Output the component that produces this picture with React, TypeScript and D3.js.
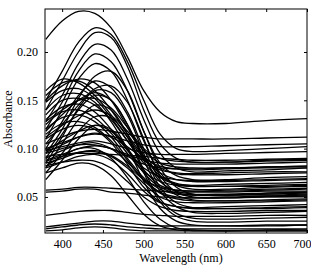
import { useRef, useEffect } from 'react';
import * as d3 from 'd3';

// wavelengths (nm) at which each spectrum is sampled
const wavelengths = [380, 400, 420, 440, 460, 480, 500, 520, 540, 560, 600, 650, 700];

// peaked spectra, strong drop after 500 nm
const peakedSpectra = [
  [0.213, 0.232, 0.242, 0.240, 0.225, 0.195, 0.160, 0.138, 0.128, 0.126, 0.126, 0.129, 0.131],
  [0.150, 0.180, 0.210, 0.225, 0.218, 0.190, 0.150, 0.115, 0.100, 0.097, 0.098, 0.100, 0.102],
  [0.140, 0.170, 0.200, 0.220, 0.215, 0.185, 0.140, 0.105, 0.090, 0.086, 0.086, 0.088, 0.089],
  [0.128, 0.155, 0.188, 0.208, 0.202, 0.172, 0.130, 0.095, 0.080, 0.076, 0.077, 0.078, 0.080],
  [0.120, 0.148, 0.180, 0.198, 0.190, 0.160, 0.118, 0.085, 0.072, 0.068, 0.068, 0.070, 0.071],
  [0.110, 0.140, 0.172, 0.188, 0.180, 0.150, 0.108, 0.075, 0.062, 0.058, 0.058, 0.060, 0.061],
  [0.095, 0.120, 0.152, 0.175, 0.180, 0.160, 0.118, 0.080, 0.060, 0.053, 0.052, 0.054, 0.055],
  [0.100, 0.128, 0.155, 0.170, 0.163, 0.138, 0.100, 0.068, 0.052, 0.047, 0.046, 0.047, 0.048],
  [0.085, 0.112, 0.142, 0.160, 0.158, 0.135, 0.095, 0.060, 0.044, 0.039, 0.038, 0.039, 0.040],
  [0.090, 0.115, 0.140, 0.155, 0.150, 0.125, 0.088, 0.056, 0.040, 0.034, 0.033, 0.034, 0.035],
  [0.080, 0.105, 0.130, 0.145, 0.140, 0.115, 0.078, 0.048, 0.033, 0.028, 0.027, 0.028, 0.029],
  [0.075, 0.095, 0.118, 0.133, 0.132, 0.112, 0.075, 0.045, 0.030, 0.025, 0.024, 0.025, 0.025],
  [0.068, 0.088, 0.110, 0.124, 0.120, 0.100, 0.066, 0.038, 0.025, 0.021, 0.020, 0.021, 0.021],
  [0.082, 0.092, 0.100, 0.100, 0.090, 0.070, 0.045, 0.027, 0.018, 0.016, 0.015, 0.015, 0.015],
  [0.075, 0.080, 0.085, 0.083, 0.072, 0.052, 0.032, 0.020, 0.016, 0.015, 0.015, 0.016, 0.016],
  [0.105, 0.125, 0.145, 0.162, 0.165, 0.148, 0.110, 0.072, 0.055, 0.050, 0.050, 0.051, 0.052],
  [0.118, 0.135, 0.150, 0.158, 0.150, 0.125, 0.092, 0.066, 0.056, 0.053, 0.053, 0.054, 0.055],
];

// spectra peaking near 400-420 nm
const bluePeakSpectra = [
  [0.160, 0.172, 0.168, 0.155, 0.135, 0.112, 0.090, 0.075, 0.068, 0.066, 0.066, 0.067, 0.068],
  [0.155, 0.168, 0.170, 0.160, 0.140, 0.115, 0.092, 0.080, 0.074, 0.073, 0.073, 0.074, 0.075],
  [0.150, 0.165, 0.172, 0.168, 0.150, 0.122, 0.092, 0.072, 0.064, 0.062, 0.063, 0.064, 0.065],
  [0.148, 0.160, 0.162, 0.152, 0.132, 0.108, 0.085, 0.070, 0.063, 0.061, 0.061, 0.062, 0.063],
  [0.140, 0.155, 0.157, 0.148, 0.128, 0.100, 0.075, 0.060, 0.054, 0.052, 0.052, 0.053, 0.054],
  [0.135, 0.150, 0.152, 0.145, 0.130, 0.108, 0.088, 0.078, 0.075, 0.074, 0.075, 0.076, 0.076],
  [0.130, 0.143, 0.146, 0.138, 0.120, 0.098, 0.080, 0.071, 0.068, 0.067, 0.067, 0.068, 0.069],
  [0.128, 0.140, 0.150, 0.152, 0.142, 0.122, 0.100, 0.090, 0.087, 0.086, 0.086, 0.087, 0.088],
  [0.125, 0.138, 0.140, 0.132, 0.116, 0.095, 0.076, 0.066, 0.062, 0.061, 0.061, 0.061, 0.062],
  [0.120, 0.132, 0.135, 0.128, 0.112, 0.090, 0.070, 0.058, 0.053, 0.052, 0.052, 0.052, 0.053],
  [0.115, 0.126, 0.128, 0.122, 0.108, 0.088, 0.067, 0.054, 0.048, 0.046, 0.046, 0.046, 0.047],
  [0.112, 0.124, 0.134, 0.140, 0.134, 0.118, 0.098, 0.085, 0.081, 0.080, 0.080, 0.081, 0.082],
  [0.110, 0.120, 0.124, 0.120, 0.106, 0.084, 0.060, 0.045, 0.040, 0.038, 0.038, 0.038, 0.039],
];

// flatter spectra around 0.08-0.12
const flatSpectra = [
  [0.105, 0.112, 0.118, 0.120, 0.118, 0.115, 0.112, 0.110, 0.110, 0.110, 0.110, 0.111, 0.112],
  [0.100, 0.106, 0.112, 0.115, 0.113, 0.108, 0.104, 0.102, 0.102, 0.102, 0.103, 0.104, 0.105],
  [0.098, 0.102, 0.106, 0.108, 0.105, 0.100, 0.096, 0.094, 0.094, 0.094, 0.095, 0.096, 0.097],
  [0.098, 0.108, 0.118, 0.124, 0.118, 0.100, 0.078, 0.062, 0.057, 0.056, 0.057, 0.058, 0.059],
  [0.096, 0.104, 0.112, 0.116, 0.112, 0.102, 0.090, 0.082, 0.079, 0.078, 0.079, 0.080, 0.080],
  [0.095, 0.100, 0.104, 0.104, 0.100, 0.094, 0.088, 0.085, 0.084, 0.084, 0.084, 0.085, 0.086],
  [0.092, 0.094, 0.095, 0.095, 0.094, 0.093, 0.092, 0.090, 0.089, 0.088, 0.088, 0.089, 0.090],
  [0.090, 0.098, 0.104, 0.106, 0.100, 0.086, 0.068, 0.055, 0.050, 0.049, 0.049, 0.050, 0.051],
  [0.088, 0.094, 0.100, 0.103, 0.100, 0.092, 0.084, 0.080, 0.079, 0.079, 0.080, 0.081, 0.082],
  [0.087, 0.092, 0.096, 0.097, 0.092, 0.080, 0.064, 0.050, 0.045, 0.044, 0.044, 0.045, 0.046],
  [0.085, 0.090, 0.096, 0.098, 0.093, 0.082, 0.068, 0.060, 0.057, 0.056, 0.056, 0.057, 0.058],
  [0.080, 0.086, 0.092, 0.094, 0.088, 0.074, 0.056, 0.044, 0.040, 0.039, 0.040, 0.041, 0.042],
  [0.082, 0.086, 0.088, 0.087, 0.080, 0.066, 0.050, 0.040, 0.036, 0.035, 0.035, 0.036, 0.036],
];

// low, almost flat spectra
const lowSpectra = [
  [0.057, 0.058, 0.060, 0.060, 0.059, 0.058, 0.057, 0.056, 0.055, 0.055, 0.055, 0.056, 0.056],
  [0.055, 0.056, 0.058, 0.058, 0.055, 0.054, 0.052, 0.050, 0.049, 0.049, 0.049, 0.050, 0.050],
  [0.031, 0.033, 0.035, 0.036, 0.036, 0.034, 0.032, 0.031, 0.030, 0.030, 0.030, 0.031, 0.031],
  [0.019, 0.021, 0.023, 0.025, 0.025, 0.023, 0.021, 0.020, 0.020, 0.020, 0.020, 0.020, 0.021],
  [0.017, 0.019, 0.021, 0.022, 0.021, 0.019, 0.018, 0.017, 0.017, 0.017, 0.017, 0.017, 0.017],
  [0.015, 0.016, 0.018, 0.019, 0.018, 0.016, 0.015, 0.015, 0.015, 0.015, 0.015, 0.015, 0.015],
];

const xTicks = [400, 450, 500, 550, 600, 650, 700];
const yTicks = [0.05, 0.10, 0.15, 0.20];

const App = () => {
  const svgRef = useRef<SVGSVGElement>(null);

  useEffect(() => {
    if (!svgRef.current) return;
    const root = d3.select(svgRef.current);
    root.selectAll('*').remove();

    const left = 45, top = 9, right = 307, bottom = 233;
    const font = "'Liberation Serif', 'DejaVu Serif', serif";

    const x = d3.scaleLinear().domain([379, 700]).range([left, right]);
    const y = d3.scaleLinear().domain([0.0127, 0.2445]).range([bottom, top]);

    root.append('defs').append('clipPath').attr('id', 'plot-clip')
      .append('rect')
      .attr('x', left).attr('y', top)
      .attr('width', right - left).attr('height', bottom - top);

    const allSpectra = [...peakedSpectra, ...bluePeakSpectra, ...flatSpectra, ...lowSpectra];

    const line = d3.line<number>()
      .x((_, i) => x(wavelengths[i]))
      .y(d => y(d))
      .curve(d3.curveCatmullRom.alpha(0.5));

    root.append('g')
      .attr('clip-path', 'url(#plot-clip)')
      .selectAll('path')
      .data(allSpectra)
      .enter()
      .append('path')
      .attr('d', d => line(d))
      .attr('fill', 'none')
      .attr('stroke', '#000')
      .attr('stroke-width', 1.3);

    // axes with inward ticks
    const styleAxis = (g: any) => {
      g.attr('font-family', null);
      g.selectAll('.domain').remove();
      g.selectAll('.tick line').attr('stroke', '#000');
      g.selectAll('text')
        .style('font-family', font)
        .style('font-size', '12px')
        .attr('fill', '#000');
    };

    const bottomAxis = root.append('g')
      .attr('transform', `translate(0,${bottom})`)
      .call(d3.axisBottom(x).tickValues(xTicks).tickSizeInner(-3).tickSizeOuter(0).tickPadding(6))
      .call(styleAxis);
    // last label is pulled in so it stays inside the page
    bottomAxis.selectAll('.tick text').filter((d: any) => d === 700).attr('dx', -5);

    root.append('g')
      .attr('transform', `translate(0,${top})`)
      .call(d3.axisTop(x).tickValues(xTicks).tickSizeInner(-3).tickSizeOuter(0).tickFormat(() => ''))
      .call(styleAxis);

    root.append('g')
      .attr('transform', `translate(${left},0)`)
      .call(d3.axisLeft(y).tickValues(yTicks).tickSizeInner(-3).tickSizeOuter(0).tickPadding(7)
        .tickFormat(d3.format('.2f')))
      .call(styleAxis);

    root.append('g')
      .attr('transform', `translate(${right},0)`)
      .call(d3.axisRight(y).tickValues(yTicks).tickSizeInner(-3).tickSizeOuter(0).tickFormat(() => ''))
      .call(styleAxis);

    // frame
    root.append('rect')
      .attr('x', left).attr('y', top)
      .attr('width', right - left).attr('height', bottom - top)
      .attr('fill', 'none')
      .attr('stroke', '#000')
      .attr('stroke-width', 1);

    root.append('text')
      .attr('x', 181)
      .attr('y', 262)
      .attr('text-anchor', 'middle')
      .style('font-family', font)
      .style('font-size', '12px')
      .text('Wavelength (nm)');

    root.append('text')
      .attr('transform', `translate(12,119) rotate(-90)`)
      .attr('text-anchor', 'middle')
      .style('font-family', font)
      .style('font-size', '12px')
      .text('Absorbance');
  }, []);

  return (
    <svg ref={svgRef} width={311} height={266}
      style={{ position: 'absolute', left: 0, top: 0, background: '#fff' }} />
  );
};

export default App;
